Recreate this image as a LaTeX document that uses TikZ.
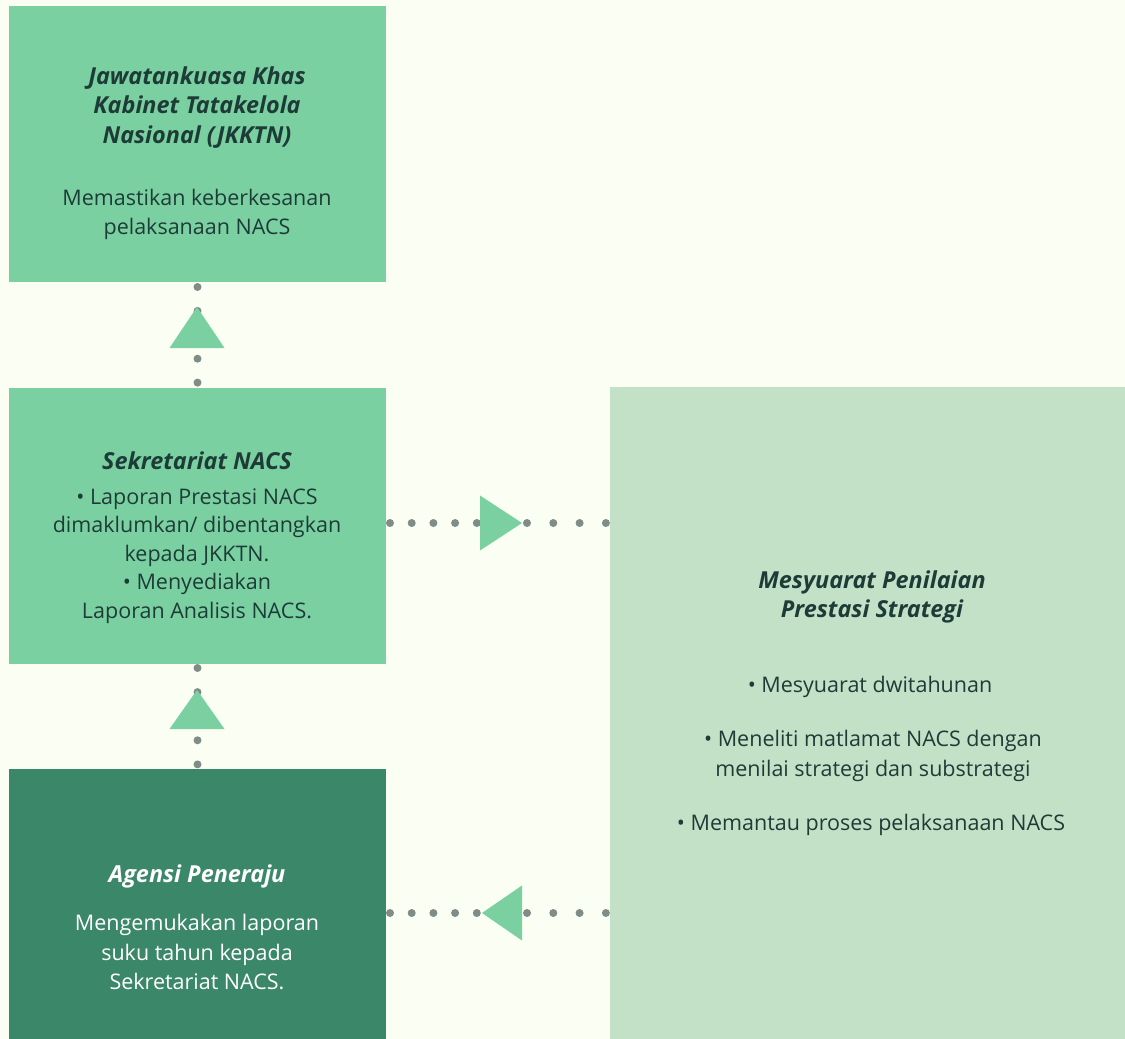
\documentclass[tikz,border=0pt]{standalone}
\usepackage{fontspec}
\setmainfont{Open Sans}
\usetikzlibrary{calc}
\definecolor{bg}{HTML}{FBFFF3}
\definecolor{midgreen}{HTML}{7BD0A2}
\definecolor{darkgreen}{HTML}{3B876A}
\definecolor{lightgreen}{HTML}{C3E1C7}
\definecolor{ink}{HTML}{1E3C37}
\definecolor{dotgray}{HTML}{7F8C87}
\begin{document}
\begin{tikzpicture}[x=1pt,y=-1pt,
  box/.style={draw=none, inner sep=0pt, outer sep=0pt, anchor=north west},
  ttl/.style={align=center, inner sep=0pt, text=ink, font=\fontsize{23.4}{29.5}\selectfont\bfseries\itshape},
  body/.style={align=center, inner sep=0pt, text=ink, font=\fontsize{21.5}{29.5}\selectfont},
  dotline/.style={draw=dotgray, line width=8pt, line cap=round},
  tri/.style={fill=midgreen}]
\useasboundingbox (0,0) rectangle (1125,1039);
\fill[bg] (0,0) rectangle (1125,1039);
% boxes
\node[box, fill=midgreen, minimum width=377pt, minimum height=276pt] (jk) at (9,6) {};
\node[box, fill=midgreen, minimum width=377pt, minimum height=276pt] (sk) at (9,388) {};
\node[box, fill=darkgreen, minimum width=377pt, minimum height=271pt] (ag) at (9,769) {};
\node[box, fill=lightgreen, minimum width=515pt, minimum height=653pt] (ms) at (610,387) {};
% texts
\node[ttl] (jkT) at (197,107.5) {Jawatankuasa Khas\\Kabinet Tatakelola\\Nasional (JKKTN)};
\node[body] (jkB) at (197,214.5) {Memastikan keberkesanan\\pelaksanaan NACS};
\node[ttl] (skT) at (197,461) {Sekretariat NACS};
\node[body, font=\fontsize{21.5}{28.5}\selectfont] (skB) at (197,556) {• Laporan Prestasi NACS\\dimaklumkan/ dibentangkan\\kepada JKKTN.\\• Menyediakan\\Laporan Analisis NACS.};
\node[ttl, text=white] (agT) at (197,876) {Agensi Peneraju};
\node[body, text=white] (agB) at (197,952) {Mengemukakan laporan\\suku tahun kepada\\Sekretariat NACS.};
\node[ttl] (msT) at (872,597) {Mesyuarat Penilaian\\Prestasi Strategi};
\node[body] (msB1) at (870,687) {• Mesyuarat dwitahunan};
\node[body] (msB2) at (873,756) {• Meneliti matlamat NACS dengan\\menilai strategi dan substrategi};
\node[body] (msB3) at (871,825) {• Memantau proses pelaksanaan NACS};
% connector anchors
\coordinate (v1) at (197,327.5);
\coordinate (v2) at (197,709.5);
\coordinate (t1) at (501,523);
\coordinate (t2) at (502,913);
% dotted lines
\draw[dotline, dash pattern=on 0pt off 23.9pt, shorten <=5pt, shorten >=5pt] (jk.south) -- (sk.north);
\draw[dotline, dash pattern=on 0pt off 24.1pt, shorten <=4pt, shorten >=4pt] (sk.south) -- (ag.north);
\draw[dotline, dash pattern=on 0pt off 21.7pt, shorten <=4pt, shorten >=24pt] (t1 -| sk.east) -- (t1);
\draw[dotline, dash pattern=on 0pt off 26.3pt, shorten <=26pt, shorten >=4pt] (t1) -- (t1 -| ms.west);
\draw[dotline, dash pattern=on 0pt off 21.7pt, shorten <=4pt, shorten >=25pt] (t2 -| ag.east) -- (t2);
\draw[dotline, dash pattern=on 0pt off 26.3pt, shorten <=25pt, shorten >=4pt] (t2) -- (t2 -| ms.west);
% arrow triangles
\fill[tri] (v1) ++(0,-20.5) -- ++(27.5,41) -- ++(-55,0) -- cycle;
\fill[tri] (v2) ++(0,-19.5) -- ++(27.5,39) -- ++(-55,0) -- cycle;
\fill[tri] (t1) ++(-21,-27.5) -- ++(42,27.5) -- ++(-42,27.5) -- cycle;
\fill[tri] (t2) ++(-20,0) -- ++(40,-27.5) -- ++(0,55) -- cycle;
\end{tikzpicture}
\end{document}
